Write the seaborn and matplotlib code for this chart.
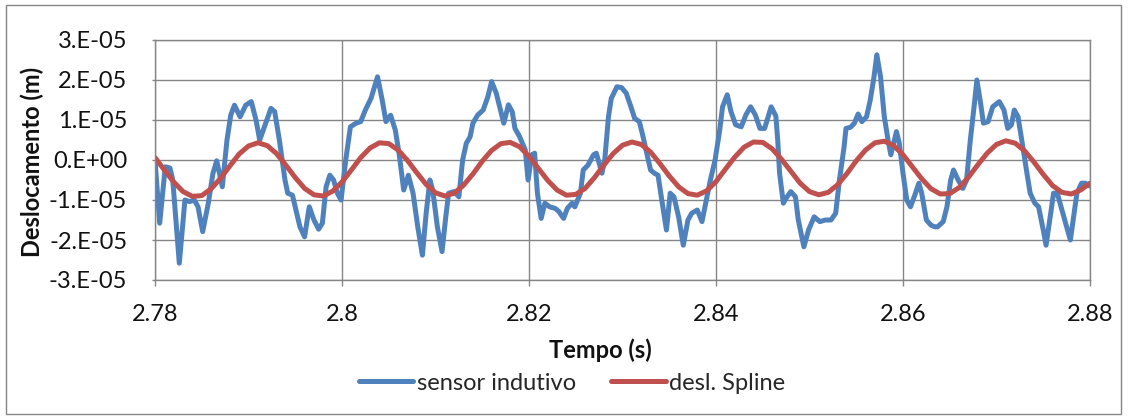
import numpy as np
import pandas as pd
import matplotlib
matplotlib.use("Agg")
import matplotlib.pyplot as plt
from matplotlib.patches import Rectangle
from matplotlib.ticker import FixedLocator, FuncFormatter
import seaborn as sns

# Inductive sensor displacement (units of 1e-5 m) vs time (s)
sensor_t = [
    2.7800, 2.7805, 2.7811, 2.7816, 2.7819, 2.7826, 2.7832, 2.7837, 2.7842, 2.7846,
    2.7851, 2.7857, 2.7862, 2.7866, 2.7872, 2.7877, 2.7881, 2.7885, 2.7891, 2.7897,
    2.7903, 2.7908, 2.7912, 2.7917, 2.7924, 2.7928, 2.7933, 2.7939, 2.7942, 2.7947,
    2.7955, 2.7960, 2.7965, 2.7970, 2.7975, 2.7979, 2.7983, 2.7987, 2.7991, 2.7995,
    2.7999, 2.8004, 2.8009, 2.8015, 2.8020, 2.8025, 2.8031, 2.8038, 2.8043, 2.8047,
    2.8052, 2.8057, 2.8061, 2.8066, 2.8071, 2.8076, 2.8081, 2.8086, 2.8090, 2.8094,
    2.8097, 2.8102, 2.8107, 2.8111, 2.8114, 2.8120, 2.8125, 2.8129, 2.8133, 2.8137,
    2.8140, 2.8145, 2.8151, 2.8156, 2.8160, 2.8165, 2.8173, 2.8178, 2.8182, 2.8185,
    2.8190, 2.8196, 2.8199, 2.8203, 2.8206, 2.8209, 2.8213, 2.8217, 2.8222, 2.8228,
    2.8232, 2.8237, 2.8241, 2.8246, 2.8249, 2.8255, 2.8258, 2.8263, 2.8269, 2.8272,
    2.8278, 2.8281, 2.8285, 2.8288, 2.8294, 2.8299, 2.8304, 2.8309, 2.8313, 2.8318,
    2.8322, 2.8326, 2.8330, 2.8334, 2.8338, 2.8342, 2.8347, 2.8351, 2.8355, 2.8360,
    2.8365, 2.8370, 2.8374, 2.8380, 2.8385, 2.8389, 2.8394, 2.8399, 2.8404, 2.8407,
    2.8412, 2.8416, 2.8421, 2.8427, 2.8432, 2.8437, 2.8442, 2.8447, 2.8452, 2.8459,
    2.8464, 2.8466, 2.8468, 2.8472, 2.8476, 2.8480, 2.8485, 2.8488, 2.8494, 2.8499,
    2.8505, 2.8511, 2.8517, 2.8523, 2.8528, 2.8532, 2.8537, 2.8539, 2.8544, 2.8548,
    2.8552, 2.8556, 2.8561, 2.8565, 2.8569, 2.8572, 2.8576, 2.8580, 2.8584, 2.8587,
    2.8590, 2.8593, 2.8596, 2.8600, 2.8604, 2.8608, 2.8612, 2.8617, 2.8620, 2.8625,
    2.8630, 2.8634, 2.8637, 2.8643, 2.8647, 2.8651, 2.8654, 2.8659, 2.8664, 2.8668,
    2.8672, 2.8676, 2.8679, 2.8683, 2.8686, 2.8691, 2.8696, 2.8703, 2.8708, 2.8712,
    2.8716, 2.8719, 2.8723, 2.8727, 2.8732, 2.8736, 2.8741, 2.8745, 2.8750, 2.8753,
    2.8758, 2.8761, 2.8765, 2.8769, 2.8775, 2.8779, 2.8783, 2.8786, 2.8791, 2.8795,
    2.8800,
]
sensor_d = [
    0.00, -1.58, -0.17, -0.20, -0.50, -2.58, -1.00, -1.04, -1.00, -1.17,
    -1.79, -1.08, -0.33, -0.02, -0.67, 0.50, 1.12, 1.37, 1.08, 1.37,
    1.46, 1.00, 0.50, 0.83, 1.29, 1.21, 0.50, -0.50, -0.83, -0.88,
    -1.67, -1.92, -1.17, -1.50, -1.73, -1.58, -0.67, -0.38, -0.50, -0.83,
    -1.00, 0.00, 0.83, 0.92, 0.96, 1.25, 1.54, 2.08, 1.50, 0.96,
    1.12, 0.75, 0.17, -0.75, -0.38, -0.83, -1.67, -2.38, -1.33, -0.50,
    -0.75, -1.67, -2.29, -1.42, -0.83, -0.79, -0.92, 0.00, 0.42, 0.58,
    0.92, 1.12, 1.25, 1.58, 1.96, 1.67, 0.92, 1.38, 1.21, 0.79,
    0.58, 0.25, -0.50, 0.13, 0.17, -0.83, -1.46, -1.08, -1.17, -1.21,
    -1.29, -1.46, -1.21, -1.08, -1.17, -0.83, -0.25, -0.13, 0.13, 0.17,
    -0.33, 0.00, 1.08, 1.54, 1.83, 1.81, 1.67, 1.33, 1.04, 0.96,
    0.58, 0.17, -0.25, -0.33, -0.38, -1.00, -1.75, -0.83, -0.92, -1.42,
    -2.13, -1.50, -1.33, -1.25, -1.54, -1.08, -0.50, 0.00, 0.75, 1.33,
    1.63, 1.21, 0.88, 0.83, 1.13, 1.33, 1.13, 0.79, 0.79, 1.33,
    1.10, 0.50, -0.33, -1.08, -0.92, -0.79, -0.92, -1.50, -2.17, -1.75,
    -1.42, -1.54, -1.50, -1.50, -1.33, -0.50, 0.33, 0.79, 0.82, 0.92,
    1.15, 0.96, 1.08, 1.50, 2.08, 2.63, 2.08, 1.08, 0.50, 0.13,
    0.42, 0.71, 0.42, -0.33, -1.00, -1.17, -0.92, -0.58, -0.83, -1.50,
    -1.63, -1.67, -1.67, -1.54, -1.17, -0.50, -0.25, -0.50, -0.71, -0.50,
    0.50, 1.33, 2.00, 1.42, 0.92, 0.96, 1.33, 1.46, 1.25, 0.79,
    0.88, 1.25, 1.08, 0.50, -0.25, -0.83, -1.08, -1.17, -1.75, -2.13,
    -1.33, -0.83, -0.83, -1.17, -1.67, -2.00, -1.33, -0.83, -0.58, -0.58,
    -0.65,
]

# Spline-fitted displacement (units of 1e-5 m), one value per millisecond
spline_t = [round(2.780 + 0.001 * i, 3) for i in range(101)]
spline_d = [
    0.06, -0.25, -0.55, -0.79, -0.91, -0.89, -0.72, -0.46, -0.15, 0.15,
    0.35, 0.43, 0.36, 0.16, -0.13, -0.44, -0.71, -0.87, -0.90, -0.78,
    -0.55, -0.25, 0.06, 0.30, 0.43, 0.41, 0.25, -0.01, -0.32, -0.61,
    -0.82, -0.90, -0.83, -0.63, -0.35, -0.03, 0.24, 0.41, 0.44, 0.33,
    0.09, -0.21, -0.51, -0.75, -0.88, -0.86, -0.71, -0.44, -0.13, 0.16,
    0.37, 0.45, 0.39, 0.20, -0.09, -0.40, -0.67, -0.84, -0.88, -0.77,
    -0.54, -0.23, 0.07, 0.32, 0.45, 0.44, 0.28, 0.02, -0.28, -0.58,
    -0.79, -0.87, -0.81, -0.62, -0.34, -0.02, 0.25, 0.43, 0.47, 0.36,
    0.13, -0.17, -0.47, -0.72, -0.85, -0.84, -0.69, -0.43, -0.12, 0.17,
    0.39, 0.48, 0.42, 0.23, -0.05, -0.36, -0.64, -0.81, -0.85, -0.75,
    -0.58,
]

series_names = ["sensor indutivo", "desl. Spline"]
x_ticks = [2.78, 2.80, 2.82, 2.84, 2.86, 2.88]
y_ticks = [-3e-5, -2e-5, -1e-5, 0.0, 1e-5, 2e-5, 3e-5]

SCALE = 1e-5
df = pd.concat([
    pd.DataFrame({"t": sensor_t, "d": np.array(sensor_d) * SCALE, "serie": series_names[0]}),
    pd.DataFrame({"t": spline_t, "d": np.array(spline_d) * SCALE, "serie": series_names[1]}),
], ignore_index=True)

sns.set_theme(style="white")
plt.rcParams["font.family"] = ["Lato", "DejaVu Sans"]

GRID = "#868686"
palette = {series_names[0]: "#4F81BD", series_names[1]: "#C0504D"}

fig = plt.figure(figsize=(11.28, 4.18), dpi=100)
W, H = 1128, 418
ax = fig.add_axes([155 / W, 1 - 280 / H, (1090 - 155) / W, (280 - 40) / H])

sns.lineplot(data=df, x="t", y="d", hue="serie", hue_order=series_names,
             palette=palette, estimator=None, sort=False, linewidth=3.6,
             ax=ax, legend=True)
for ln in ax.get_lines():
    ln.set_solid_joinstyle("round")
    ln.set_solid_capstyle("round")

ax.set_xlim(2.78, 2.88)
ax.set_ylim(-3e-5, 3e-5)
ax.xaxis.set_major_locator(FixedLocator(x_ticks))
ax.yaxis.set_major_locator(FixedLocator(y_ticks))


def fmt_y(v, _pos):
    m = int(round(v / 1e-5))
    return "0.E+00" if m == 0 else f"{m}.E-05"


ax.xaxis.set_major_formatter(FuncFormatter(lambda v, _p: f"{round(v, 2):g}"))
ax.yaxis.set_major_formatter(FuncFormatter(fmt_y))

ax.grid(True, color=GRID, linewidth=1.0)
ax.set_axisbelow(True)
for s in ax.spines.values():
    s.set_visible(True)
    s.set_color(GRID)
    s.set_linewidth(1.0)

ax.tick_params(axis="x", length=4, width=1.0, color=GRID, pad=13,
               labelsize=17, labelcolor="#111111", direction="out", bottom=True)
ax.tick_params(axis="y", length=2, width=1.0, color=GRID, pad=18,
               labelsize=17, labelcolor="#111111", direction="out", left=True)

ax.set_xlabel("")
ax.set_ylabel("")
fig.text(600 / W, 1 - 350 / H, "Tempo (s)", ha="center", va="center",
         fontsize=17, fontweight="bold", color="#111111")
fig.text(32 / W, 1 - 162 / H, "Deslocamento (m)", ha="center", va="center",
         rotation=90, fontsize=17, fontweight="bold", color="#111111")

handles, labels = ax.get_legend_handles_labels()
ax.legend_.remove()
fig.legend(handles, labels, loc="center", bbox_to_anchor=(572 / W, 1 - 383 / H),
           ncol=2, frameon=False, fontsize=17, handlelength=2.3,
           handletextpad=0.15, columnspacing=1.5, borderpad=0, borderaxespad=0)

# chart area frame
fig.patches.append(Rectangle((6 / W, 4 / H), (1121 - 6) / W, (413 - 4) / H,
                             transform=fig.transFigure, fill=False,
                             edgecolor=GRID, linewidth=1.0))

fig.savefig("out.png", dpi=100, facecolor="white")
